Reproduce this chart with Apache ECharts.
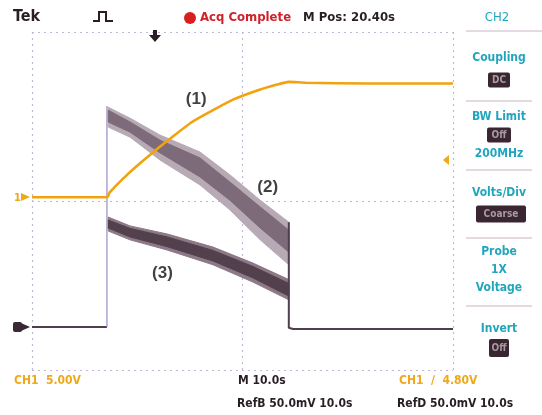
<!DOCTYPE html>
<html><head><meta charset="utf-8">
<script src="https://cdn.jsdelivr.net/npm/echarts@6/dist/echarts.min.js"></script>
<style>html,body{margin:0;padding:0;background:#fff;}#c{width:542px;height:415px;}</style>
</head><body><div id="c"></div>
<script>
// Data (x in divisions 0..10, y in divisions -4..4)
var ch1X = [0, 1.78, 1.85, 2.3, 2.8, 3.3, 3.8, 4.3, 4.8, 5.3, 5.8, 6.1, 6.5, 8, 10];
var ch1Y = [0.09, 0.09, 0.21, 0.66, 1.09, 1.49, 1.87, 2.15, 2.41, 2.60, 2.75, 2.82, 2.80, 2.78, 2.78];

var t2X = [1.81, 2.33, 3.04, 3.99, 4.70, 5.42, 6.10];
var t2OuterUp = [2.22, 1.96, 1.56, 1.16, 0.62, 0.02, -0.50];
var t2OuterLo = [1.75, 1.51, 0.97, 0.38, -0.21, -0.92, -1.51];
var t2CoreUp = [2.15, 1.87, 1.44, 1.02, 0.45, -0.14, -0.69];
var t2CoreLo = [1.87, 1.63, 1.14, 0.57, 0.02, -0.64, -1.21];

var t3X = [1.81, 2.33, 3.21, 4.30, 5.25, 6.10];
var t3OuterUp = [-0.38, -0.59, -0.78, -1.09, -1.47, -1.86];
var t3OuterLo = [-0.71, -0.92, -1.16, -1.51, -1.92, -2.34];
var t3CoreUp = [-0.45, -0.65, -0.85, -1.17, -1.55, -1.95];
var t3CoreLo = [-0.64, -0.85, -1.08, -1.42, -1.82, -2.25];

var baseLeftX = [0, 1.78];
var baseLeftY = [-2.98, -2.98];
var edgeRiseX = [1.78, 1.78];
var edgeRiseY = [-2.98, 2.25];
var edgeFallX = [6.1, 6.1, 6.2, 10];
var edgeFallY = [-0.5, -3.0, -3.03, -3.03];

var traceLabels = ['(1)', '(2)', '(3)'];
var labelX = [3.9, 5.6, 3.1];
var labelY = [2.4, 0.33, -1.7];

function pairs(xs, ys) { return xs.map(function (x, i) { return [x, ys[i]]; }); }

function band(xs, up, lo, color, z) {
  return {
    type: 'custom', coordinateSystem: 'cartesian2d', z: z, silent: true,
    data: xs.map(function (x, i) { return [x, up[i], lo[i]]; }),
    encode: { x: 0, y: [1, 2] },
    renderItem: function (params, api) {
      if (params.dataIndex !== 0) return null;
      var pts = [];
      for (var i = 0; i < xs.length; i++) pts.push(api.coord([xs[i], up[i]]));
      for (var j = xs.length - 1; j >= 0; j--) pts.push(api.coord([xs[j], lo[j]]));
      return { type: 'polygon', shape: { points: pts }, style: { fill: color, stroke: color, lineWidth: 1 } };
    }
  };
}

var FONT = '"Liberation Sans Narrow","DejaVu Sans Condensed","Liberation Sans",sans-serif';
var TEAL = '#22a6bd';
var ORANGE = '#f0a818';
var DARK = '#2a1e26';

function txt(x, y, s, color, size, align, weight) {
  return { type: 'text', left: undefined, x: x, y: y, style: { text: s, fill: color, font: (weight || 'bold') + ' ' + size + 'px ' + FONT, textAlign: align || 'left', textVerticalAlign: 'middle' }, z: 50 };
}
function box(cx, cy, w, h, s) {
  return [
    { type: 'rect', shape: { x: cx - w / 2, y: cy - h / 2, width: w, height: h, r: 2 }, style: { fill: '#3a2630' }, z: 50 },
    { type: 'text', x: cx, y: cy, style: { text: s, fill: '#a89aa2', font: 'bold 10px ' + FONT, textAlign: 'center', textVerticalAlign: 'middle' }, z: 51 }
  ];
}

var graphics = [];
// top bar
graphics.push(txt(13, 17, 'Tek', DARK, 16));
graphics.push({ type: 'polyline', shape: { points: [[93, 21], [99, 21], [99, 12], [106, 12], [106, 21], [113, 21]] }, style: { stroke: DARK, lineWidth: 2, fill: null }, z: 50 });
graphics.push({ type: 'circle', shape: { cx: 190, cy: 18, r: 6 }, style: { fill: '#d81e1e' }, z: 50 });
graphics.push(txt(200, 18, 'Acq Complete', '#d0202a', 13));
graphics.push(txt(303, 18, 'M Pos: 20.40s', DARK, 13));
graphics.push(txt(497, 18, 'CH2', TEAL, 13, 'center', 'normal'));
graphics.push({ type: 'line', shape: { x1: 466, y1: 31, x2: 542, y2: 31 }, style: { stroke: '#c6b4c6', lineWidth: 1 }, z: 50 });
// trigger position arrow
graphics.push({ type: 'polygon', shape: { points: [[149, 35], [161, 35], [155, 42]] }, style: { fill: DARK }, z: 50 });
graphics.push({ type: 'rect', shape: { x: 153, y: 30, width: 4, height: 6 }, style: { fill: DARK }, z: 50 });
// left channel markers
graphics.push(txt(14, 198, '1', ORANGE, 11));
graphics.push({ type: 'polygon', shape: { points: [[21, 193], [30, 197], [21, 201]] }, style: { fill: ORANGE }, z: 50 });
graphics.push({ type: 'rect', shape: { x: 13, y: 322, width: 9, height: 10, r: 2 }, style: { fill: '#3a2834' }, z: 50 });
graphics.push({ type: 'polygon', shape: { points: [[21, 323], [30, 327], [21, 331]] }, style: { fill: '#3a2834' }, z: 50 });
// trigger level marker
graphics.push({ type: 'polygon', shape: { points: [[443, 160], [449, 155], [449, 165]] }, style: { fill: ORANGE }, z: 50 });
// trace labels
// (placed via data coordinates below with markPoint-free approach using convertToPixel after init)
// right panel
var sep = [101, 170, 238, 306];
sep.forEach(function (y) { graphics.push({ type: 'line', shape: { x1: 466, y1: y, x2: 532, y2: y }, style: { stroke: '#c9b3c3', lineWidth: 1 }, z: 50 }); });
graphics.push(txt(499, 58, 'Coupling', TEAL, 12, 'center'));
graphics = graphics.concat(box(499, 80, 22, 15, 'DC'));
graphics.push(txt(499, 117, 'BW Limit', TEAL, 12, 'center'));
graphics = graphics.concat(box(499, 135, 24, 15, 'Off'));
graphics.push(txt(499, 154, '200MHz', TEAL, 12, 'center'));
graphics.push(txt(499, 193, 'Volts/Div', TEAL, 12, 'center'));
graphics = graphics.concat(box(501, 214, 50, 17, 'Coarse'));
graphics.push(txt(499, 252, 'Probe', TEAL, 12, 'center'));
graphics.push(txt(499, 270, '1X', TEAL, 12, 'center'));
graphics.push(txt(499, 288, 'Voltage', TEAL, 12, 'center'));
graphics.push(txt(499, 329, 'Invert', TEAL, 12, 'center'));
graphics = graphics.concat(box(499, 348, 20, 18, 'Off'));
// bottom bar
graphics.push(txt(14, 381, 'CH1  5.00V', ORANGE, 12));
graphics.push(txt(238, 381, 'M 10.0s', DARK, 12));
graphics.push(txt(399, 381, 'CH1  \u2215  4.80V', ORANGE, 12));
graphics.push(txt(237, 404, 'RefB 50.0mV 10.0s', DARK, 12));
graphics.push(txt(397, 404, 'RefD 50.0mV 10.0s', DARK, 12));

var chart = echarts.init(document.getElementById('c'), null, { renderer: 'canvas' });
var gridLine = { show: true, lineStyle: { color: '#c5b6d6', type: [2, 4], width: 1.2 } };
chart.setOption({
  animation: false,
  backgroundColor: '#ffffff',
  grid: { left: 32, top: 32, width: 421, height: 338, containLabel: false },
  xAxis: { type: 'value', min: 0, max: 10, interval: 5, axisLabel: { show: false }, axisTick: { show: false }, axisLine: { show: false }, splitLine: gridLine },
  yAxis: { type: 'value', min: -4, max: 4, interval: 4, axisLabel: { show: false }, axisTick: { show: false }, axisLine: { show: false }, splitLine: gridLine },
  series: [
    band(t2X, t2OuterUp, t2OuterLo, '#b7aab4', 3),
    band(t2X, t2CoreUp, t2CoreLo, '#7e6b79', 4),
    band(t3X, t3OuterUp, t3OuterLo, '#8c7886', 3),
    band(t3X, t3CoreUp, t3CoreLo, '#53404d', 4),
    { type: 'line', data: pairs(baseLeftX, baseLeftY), symbol: 'none', lineStyle: { color: '#4f3e4b', width: 2 }, z: 5 },
    { type: 'line', data: pairs(edgeRiseX, edgeRiseY), symbol: 'none', lineStyle: { color: '#9d96c4', width: 1.3 }, z: 5 },
    { type: 'line', data: pairs(edgeFallX, edgeFallY), symbol: 'none', lineStyle: { color: '#4f3e4b', width: 2 }, z: 5 },
    { type: 'line', data: pairs(ch1X, ch1Y), symbol: 'none', smooth: 0.2, lineStyle: { color: '#f2a20e', width: 2.6 }, z: 8 },
    { type: 'scatter', data: pairs(labelX, labelY), symbolSize: 0, z: 20,
      label: { show: true, position: 'inside', formatter: function (p) { return traceLabels[p.dataIndex]; }, color: '#111', fontSize: 17, fontWeight: 'bold', fontFamily: '"Liberation Sans","DejaVu Sans",sans-serif' } }
  ],
  graphic: graphics
});
</script>
</body></html>
